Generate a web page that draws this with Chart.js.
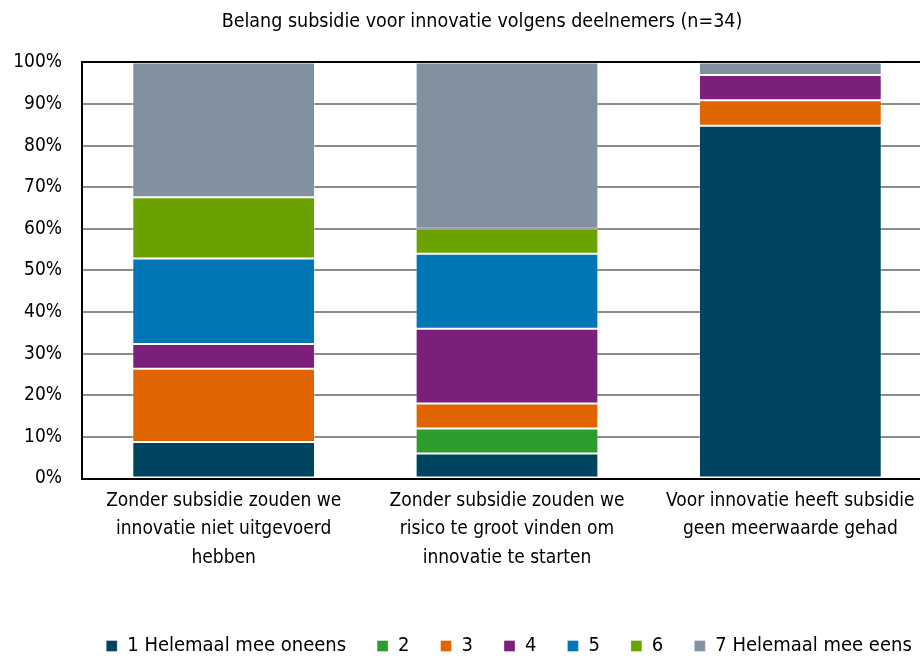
<!DOCTYPE html>
<html>
<head>
<meta charset="utf-8">
<script src="https://cdn.jsdelivr.net/npm/chart.js@4.4.1/dist/chart.umd.min.js"></script>
<style>
  html, body { margin: 0; padding: 0; background: #fff; overflow: hidden; }
  #wrap { width: 964px; height: 659px; }
</style>
</head>
<body>
<div id="wrap"><canvas id="chart" width="964" height="659"></canvas></div>
<script>
const categories = [
	["Zonder subsidie zouden we", "innovatie niet uitgevoerd", "hebben"],
	["Zonder subsidie zouden we", "risico te groot vinden om", "innovatie te starten"],
	["Voor innovatie heeft subsidie", "geen meerwaarde gehad"],
];
const seriesNames = ["1 Helemaal mee oneens", "2", "3", "4", "5", "6", "7 Helemaal mee eens"];
const s1 = [8.8, 6, 84.8];
const s2 = [0, 6, 0];
const s3 = [17.6, 6, 6.1];
const s4 = [5.9, 18, 6.1];
const s5 = [20.6, 18, 0];
const s6 = [14.7, 6, 0];
const s7 = [32.4, 40, 3.0];
const yTicks = [0, 10, 20, 30, 40, 50, 60, 70, 80, 90, 100];

const colors = ["#00455f", "#2d9b2d", "#e06400", "#7b1f7b", "#0077b4", "#6aa300", "#8291a0"];
const FONT = "'Liberation Sans Narrow', 'Arial Narrow', 'DejaVu Sans Condensed', sans-serif";

const allSeries = [s1, s2, s3, s4, s5, s6, s7];
const datasets = allSeries.map((d, i) => ({
	label: seriesNames[i],
	data: d,
	backgroundColor: colors[i],
	borderColor: "rgba(255,255,255,0.35)",
	borderWidth: 1,
	borderSkipped: false,
	barPercentage: 1,
	categoryPercentage: 0.645,
}));

// nudge title and legend like in the original
const boxShift = {
	id: "boxShift",
	afterLayout(chart) {
		const lg = chart.legend;
		lg.left += 43;
		lg.right += 43;
		lg.top += 7;
		lg.bottom += 7;
		const tb = chart.titleBlock;
		tb.left += 16;
		tb.right += 16;
	},
};

new Chart(document.getElementById("chart"), {
	type: "bar",
	data: { labels: categories, datasets: datasets },
	plugins: [boxShift],
	options: {
		responsive: false,
		animation: false,
		layout: { padding: { top: 4, right: 32, bottom: 0, left: 0 } },
		plugins: {
			title: {
				display: true,
				text: "Belang subsidie voor innovatie volgens deelnemers (n=34)",
				color: "#000",
				font: { family: FONT, size: 19.5, weight: "normal" },
				padding: { top: 6, bottom: 29 },
			},
			legend: {
				position: "bottom",
				labels: {
					color: "#000",
					font: { family: FONT, size: 20 },
					boxWidth: 11,
					boxHeight: 11,
					padding: 31,
				},
			},
			tooltip: { enabled: false },
		},
		scales: {
			x: {
				stacked: true,
				grid: { display: false },
				border: { display: true, color: "#000", width: 2 },
				ticks: {
					color: "#000",
					font: { family: FONT, size: 19, lineHeight: 1.5 },
					maxRotation: 0,
					autoSkip: false,
					padding: 0,
				},
				afterFit: (scale) => {
					scale.height += 26;
				},
			},
			y: {
				stacked: true,
				min: 0,
				max: 100,
				afterBuildTicks: (scale) => {
					scale.ticks = yTicks.map((v) => ({ value: v }));
				},
				afterFit: (scale) => {
					scale.width = 82;
				},
				border: { display: true, color: "#000", width: 2 },
				grid: {
					drawTicks: false,
					lineWidth: 2,
					color: (c) => (c.tick && (c.tick.value === 100 || c.tick.value === 0) ? "#000" : "#8c8c8c"),
				},
				ticks: {
					color: "#000",
					font: { family: FONT, size: 19 },
					padding: 20,
					callback: (v) => v + "%",
				},
			},
		},
	},
});
</script>
</body>
</html>
